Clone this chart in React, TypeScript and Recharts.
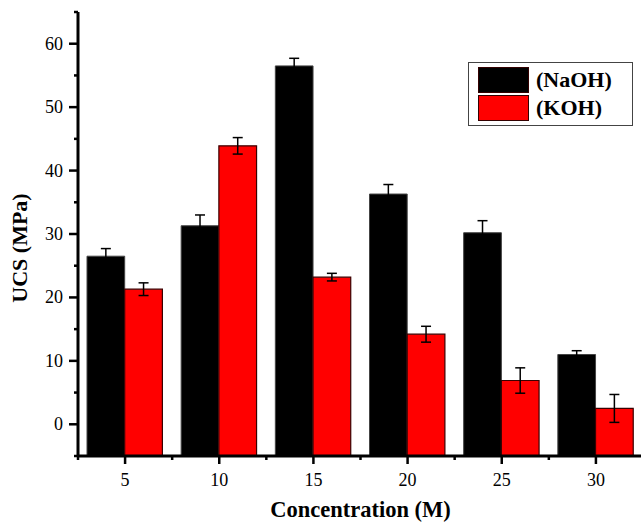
import { BarChart, Bar, XAxis, YAxis, ErrorBar, Legend } from 'recharts';

const FONT = '"Liberation Serif", "Times New Roman", serif';

// Concentration (M) groups and UCS (MPa) readings with their error bars
const concentrations = [5, 10, 15, 20, 25, 30];
const naohUcs = [26.5, 31.3, 56.5, 36.3, 30.2, 11.0];
const naohErr = [1.2, 1.7, 1.2, 1.5, 1.9, 0.6];
const kohUcs = [21.3, 43.9, 23.2, 14.2, 6.9, 2.5];
const kohErr = [1.0, 1.3, 0.6, 1.25, 2.0, 2.2];
const seriesNames = ['(NaOH)', '(KOH)'];

const xTicks = [2.5, 5, 7.5, 10, 12.5, 15, 17.5, 20, 22.5, 25, 27.5, 30, 32.5];
const yTicks = [-5, 0, 5, 10, 15, 20, 25, 30, 35, 40, 45, 50, 55, 60, 65];
const X_DOMAIN = [2.5, 32.5];
const Y_MIN = -5;
const Y_MAX = 65;

// bars are drawn from the bottom of the axis, like the original plot
const data = concentrations.map((c, i) => ({
  conc: c,
  naoh: [Y_MIN, naohUcs[i]],
  naohErr: naohErr[i],
  koh: [Y_MIN, kohUcs[i]],
  kohErr: kohErr[i],
}));

const XTick = (props: any) => {
  const { x, y, payload } = props;
  const major = Number.isInteger(payload.value);
  return (
    <g>
      <line x1={x} x2={x} y1={y} y2={y + (major ? 8 : 4)} stroke="#000" strokeWidth={2.5} />
      {major && (
        <text x={x} y={y + 30} textAnchor="middle" fontSize={18} fontFamily={FONT} fill="#000">
          {payload.value}
        </text>
      )}
    </g>
  );
};

const YTick = (props: any) => {
  const { x, y, payload } = props;
  const major = payload.value % 10 === 0;
  return (
    <g>
      <line x1={x} x2={x - (major ? 9 : 4)} y1={y} y2={y} stroke="#000" strokeWidth={2.5} />
      {major && (
        <text x={x - 15} y={y + 6} textAnchor="end" fontSize={18} fontFamily={FONT} fill="#000">
          {payload.value}
        </text>
      )}
    </g>
  );
};

const XTitle = (props: any) => {
  const vb = props.viewBox;
  return (
    <text
      x={vb.x + vb.width / 2}
      y={vb.y + 61}
      textAnchor="middle"
      fontSize={22.5}
      fontWeight="bold"
      fontFamily={FONT}
      fill="#000"
    >
      Concentration (M)
    </text>
  );
};

const YTitle = (props: any) => {
  const vb = props.viewBox;
  const cx = 27;
  const cy = vb.y + vb.height / 2 + 14;
  return (
    <text
      x={cx}
      y={cy}
      transform={`rotate(-90 ${cx} ${cy})`}
      textAnchor="middle"
      fontSize={22}
      fontWeight="bold"
      fontFamily={FONT}
      fill="#000"
    >
      UCS (MPa)
    </text>
  );
};

const LegendBox = (props: any) => {
  const items = [...(props.payload || [])].sort(
    (a: any, b: any) => seriesNames.indexOf(a.value) - seriesNames.indexOf(b.value)
  );
  return (
    <div
      style={{
        border: '1px solid #444',
        background: '#fff',
        padding: '3px 8px 3px 9px',
        width: 146,
        boxSizing: 'content-box',
      }}
    >
      {items.map((it: any) => (
        <div key={it.value} style={{ display: 'flex', alignItems: 'center', height: 28 }}>
          <div
            style={{
              width: 49,
              height: 24,
              background: it.color,
              border: '1px solid #300',
              marginRight: 7,
            }}
          />
          <span
            style={{
              fontFamily: FONT,
              fontWeight: 'bold',
              fontSize: 22,
              color: '#000',
              lineHeight: '28px',
            }}
          >
            {it.value}
          </span>
        </div>
      ))}
    </div>
  );
};

export default function App() {
  return (
    <div style={{ position: 'absolute', left: 0, top: 0, width: 641, height: 525, overflow: 'hidden', background: '#fff' }}>
      <BarChart
        width={645}
        height={525}
        data={data}
        margin={{ top: 12, right: 2, bottom: 0, left: 0 }}
        barGap={0}
      >
        <XAxis
          dataKey="conc"
          type="number"
          domain={X_DOMAIN}
          ticks={xTicks}
          allowDataOverflow
          height={69}
          axisLine={{ stroke: '#000', strokeWidth: 3 }}
          tickLine={false}
          tickSize={0}
          tickMargin={0}
          interval={0}
          tick={<XTick />}
          label={<XTitle />}
        />
        <XAxis
          xAxisId="top"
          dataKey="conc"
          type="number"
          orientation="top"
          domain={X_DOMAIN}
          ticks={xTicks}
          allowDataOverflow
          height={0}
          axisLine={{ stroke: '#000', strokeWidth: 3 }}
          tickLine={false}
          tick={false}
        />
        <YAxis
          type="number"
          domain={[Y_MIN, Y_MAX]}
          ticks={yTicks}
          allowDataOverflow
          width={78}
          axisLine={{ stroke: '#000', strokeWidth: 3 }}
          tickLine={false}
          tickSize={0}
          tickMargin={0}
          interval={0}
          tick={<YTick />}
          label={<YTitle />}
        />
        <Legend
          layout="vertical"
          verticalAlign="middle"
          align="center"
          content={<LegendBox />}
          wrapperStyle={{ top: 62, left: 468, width: 'auto' }}
        />
        <Bar dataKey="naoh" name={seriesNames[0]} fill="#000" stroke="#444" strokeWidth={1} barSize={37.7} isAnimationActive={false}>
          <ErrorBar dataKey="naohErr" width={5} stroke="#000" strokeWidth={1.5} direction="y" />
        </Bar>
        <Bar dataKey="koh" name={seriesNames[1]} fill="#ff0000" stroke="#3a0000" strokeWidth={1.2} barSize={37.7} isAnimationActive={false}>
          <ErrorBar dataKey="kohErr" width={5} stroke="#000" strokeWidth={1.5} direction="y" />
        </Bar>
      </BarChart>
    </div>
  );
}
